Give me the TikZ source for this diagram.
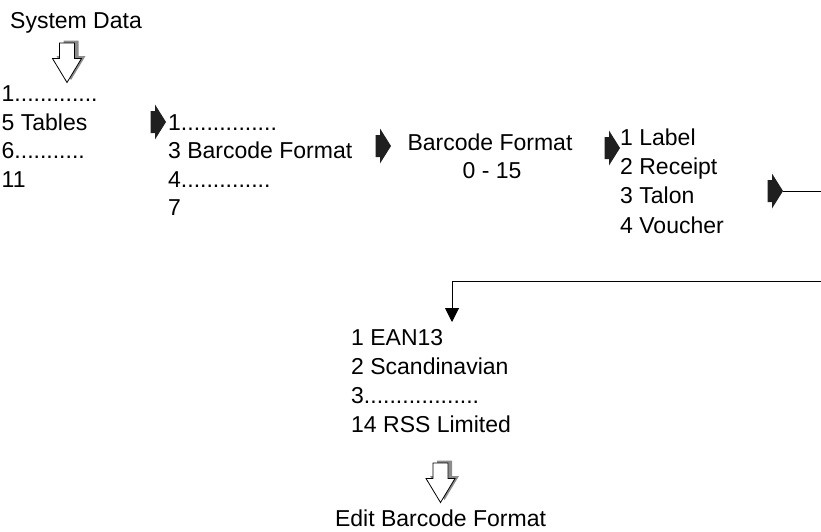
\documentclass[tikz,border=0pt]{standalone}
\usepackage{fontspec}
\setmainfont{Liberation Sans}
\usetikzlibrary{arrows.meta}
\tikzset{
  txt/.style={anchor=base west, inner sep=0pt, font=\fontsize{23}{28}\selectfont},
  ctxt/.style={anchor=base, inner sep=0pt, font=\fontsize{23}{28}\selectfont},
  conn/.style={line width=1pt, black},
  blockarrow/.pic={\fill[black!88] (0,0) -- (-11,-17.5) -- (-11,-11) -- (-15.5,-11) -- (-15.5,11) -- (-11,11) -- (-11,17.5) -- cycle;},
  hollowarrow/.pic={
    \fill[black!45] (-3.5,-2.5) -- (11.5,-2.5) -- (11.5,13) -- (18.5,13) -- (4,37) -- (-10.5,13) -- (-3.5,13) -- cycle;
    \filldraw[fill=white, draw=black, line width=0.8pt] (-7.5,0) -- (7.5,0) -- (7.5,15.5) -- (14.5,15.5) -- (0,39.5) -- (-14.5,15.5) -- (-7.5,15.5) -- cycle;
  }
}
\begin{document}
\begin{tikzpicture}[x=1pt,y=-1pt]
\useasboundingbox (0,0) rectangle (821,531);
% titles
\node[ctxt] (sys) at (76,28) {System Data};
\pic at (67,43) {hollowarrow};
% list 1
\node[txt] (a1) at (1.5,101.5) {1.............};
\node[txt] (a2) at (1.5,130) {5 Tables};
\node[txt] (a3) at (1.5,158.5) {6...........};
\node[txt] (a4) at (1.5,187) {11};
% list 2
\pic at (166,122) {blockarrow};
\node[txt] (b1) at (168,130) {1...............};
\node[txt] (b2) at (168,158.5) {3 Barcode Format};
\node[txt] (b3) at (168,187) {4..............};
\node[txt] (b4) at (168,215) {7};
% barcode format
\pic at (391,146) {blockarrow};
\node[ctxt] (bf) at (490,150) {Barcode Format};
\node[ctxt] (bfr) at (492,178) {0 - 15};
% list 3
\pic at (620,148) {blockarrow};
\node[txt] (c1) at (620,145) {1 Label};
\node[txt] (c2) at (620,174.3) {2 Receipt};
\node[txt] (c3) at (620,203.6) {3 Talon};
\node[txt] (c4) at (620,233) {4 Voucher};
% connector
\pic at (783,191) {blockarrow};
\coordinate (dtip) at (783,191);
\coordinate (edgeA) at (821,191);
\draw[conn] (dtip) -- (edgeA);
\coordinate (edgeB) at (821,281);
\coordinate (eanin) at (452,322);
\draw[conn, -{Triangle[width=14pt,length=14pt]}] (edgeB) -| (eanin);
% list 4
\node[txt] (d1) at (351,345) {1 EAN13};
\node[txt] (d2) at (351,374) {2 Scandinavian};
\node[txt] (d3) at (351,403) {3..................};
\node[txt] (d4) at (351,432) {14 RSS Limited};
\pic at (440.5,463) {hollowarrow};
\node[ctxt] (edit) at (440.5,526) {Edit Barcode Format};
\end{tikzpicture}
\end{document}
